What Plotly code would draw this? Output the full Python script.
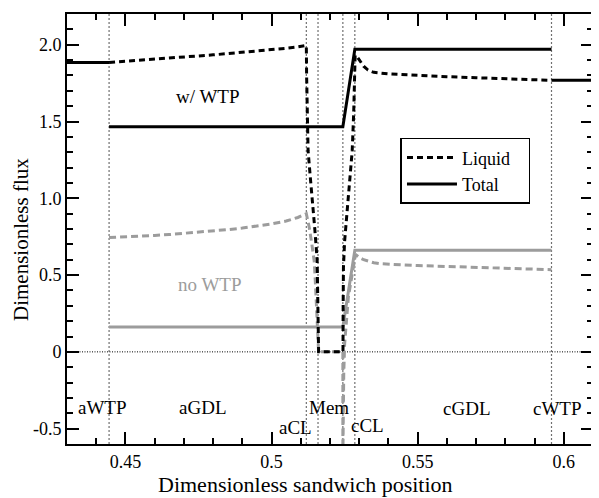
import plotly.graph_objects as go

# ---------------- data ----------------
boundaries = [0.4444, 0.5119, 0.5159, 0.5244, 0.5285, 0.5958]
region_names = ["aWTP", "aGDL", "aCL", "Mem", "cCL", "cGDL", "cWTP"]

# with WTP (black)
liq_w_x = [0.4444, 0.450, 0.455, 0.460, 0.465, 0.470, 0.475, 0.480, 0.485, 0.490, 0.495, 0.500, 0.505, 0.509, 0.5119,
           0.5120, 0.5122, 0.5125, 0.5132, 0.5140, 0.5148, 0.5156, 0.5158, 0.5160, 0.5161,
           0.5170, 0.5200, 0.5230, 0.52445,
           0.5245, 0.5246, 0.5250, 0.5258, 0.5266, 0.5276, 0.5281, 0.5284, 0.5286,
           0.5290, 0.5300, 0.5315, 0.5330, 0.5350, 0.5400, 0.5450, 0.5500, 0.5600, 0.5700, 0.5800, 0.5900, 0.5958]
liq_w_y = [1.885, 1.892, 1.899, 1.906, 1.913, 1.920, 1.927, 1.934, 1.942, 1.950, 1.958, 1.967, 1.977, 1.986, 1.995,
           1.80, 1.55, 1.31, 1.15, 0.985, 0.80, 0.60, 0.40, 0.20, 0.0,
           0.0, 0.0, 0.0, 0.0,
           0.30, 0.55, 0.72, 0.90, 1.08, 1.31, 1.55, 1.80, 1.93,
           1.93, 1.90, 1.86, 1.835, 1.82, 1.81, 1.805, 1.80, 1.792, 1.785, 1.779, 1.773, 1.768]

tot_w_x = [0.43, 0.4444, None, 0.4444, 0.5244, 0.5285, 0.5958, None, 0.5958, 0.61]
tot_w_y = [1.885, 1.885, None, 1.466, 1.466, 1.971, 1.971, None, 1.768, 1.768]

# without WTP (gray)
liq_n_x = [0.4444, 0.450, 0.455, 0.460, 0.465, 0.470, 0.475, 0.480, 0.485, 0.490, 0.495, 0.500, 0.505, 0.509, 0.5119,
           0.5123, 0.5129, 0.5138, 0.5146, 0.5150, 0.5156, 0.5159, 0.5161,
           0.5170, 0.5200, 0.5230, 0.5244,
           0.5244, 0.5245, 0.5247, 0.5250, 0.5256, 0.5263, 0.5272, 0.5280, 0.5286,
           0.5290, 0.5300, 0.5315, 0.5330, 0.5350, 0.5370, 0.5400, 0.5450, 0.5500, 0.5600, 0.5700, 0.5800, 0.5900, 0.5958]
liq_n_y = [0.745, 0.748, 0.752, 0.758, 0.764, 0.771, 0.778, 0.787, 0.796, 0.806, 0.818, 0.833, 0.852, 0.875, 0.900,
           0.87, 0.81, 0.70, 0.59, 0.45, 0.25, 0.10, 0.0,
           0.0, 0.0, 0.0, 0.0,
           -0.70, -0.40, -0.15, 0.05, 0.22, 0.36, 0.46, 0.55, 0.62,
           0.63, 0.615, 0.60, 0.59, 0.58, 0.574, 0.570, 0.566, 0.562, 0.556, 0.550, 0.544, 0.539, 0.535]

tot_n_x = [0.4444, 0.5244, 0.5285, 0.5958]
tot_n_y = [0.162, 0.162, 0.662, 0.662]

x_tickvals = [0.45, 0.5, 0.55, 0.6]
x_ticktext = ["0.45", "0.5", "0.55", "0.6"]
y_tickvals = [-0.5, 0, 0.5, 1.0, 1.5, 2.0]
y_ticktext = ["-0.5", "0", "0.5", "1.0", "1.5", "2.0"]

# ---------------- figure ----------------
FONT = "Liberation Serif"
BLACK = "#000000"
GRAY = "#9c9c9c"
PAD = "\u00a0\u00a0\u00a0"

fig = go.Figure()

for b in boundaries:
    fig.add_vline(x=b, line=dict(color="#707070", width=1.2, dash="2px,2px"), layer="below")
fig.add_hline(y=0, line=dict(color=BLACK, width=1, dash="1px,1.5px"), layer="below")

fig.add_trace(go.Scatter(x=liq_n_x, y=liq_n_y, mode="lines", showlegend=False,
                         line=dict(color=GRAY, width=3, dash="7px,4px")))
fig.add_trace(go.Scatter(x=tot_n_x, y=tot_n_y, mode="lines", showlegend=False,
                         line=dict(color=GRAY, width=3)))
fig.add_trace(go.Scatter(x=liq_w_x, y=liq_w_y, mode="lines", name="Liquid" + PAD,
                         line=dict(color=BLACK, width=3, dash="6px,4px")))
fig.add_trace(go.Scatter(x=tot_w_x, y=tot_w_y, mode="lines", name="Total" + PAD,
                         line=dict(color=BLACK, width=3)))

# region labels
label_x = [0.4421, 0.4762, 0.5083, 0.5195, 0.5330, 0.5667, 0.5977]
label_y = [-0.36, -0.36, -0.49, -0.36, -0.477, -0.366, -0.366]
for name, lx, ly in zip(region_names, label_x, label_y):
    fig.add_annotation(x=lx, y=ly, text=name, showarrow=False, xanchor="center", yanchor="middle",
                       font=dict(family=FONT, size=19, color=BLACK))

fig.add_annotation(x=0.4781, y=1.661, text="w/ WTP", showarrow=False, xanchor="center", yanchor="middle",
                   font=dict(family=FONT, size=19, color=BLACK))
fig.add_annotation(x=0.4791, y=0.439, text="no WTP", showarrow=False, xanchor="center", yanchor="middle",
                   font=dict(family=FONT, size=19, color=GRAY))

# axis titles
fig.add_annotation(xref="paper", yref="paper", x=0.454, y=-0.095, text="Dimensionless sandwich position",
                   showarrow=False, xanchor="center", yanchor="middle",
                   font=dict(family=FONT, size=22, color=BLACK))
fig.add_annotation(xref="paper", yref="paper", x=-0.087, y=0.475, text="Dimensionless flux",
                   showarrow=False, xanchor="center", yanchor="middle", textangle=-90,
                   font=dict(family=FONT, size=21, color=BLACK))

axis_common = dict(showline=True, linewidth=2, linecolor=BLACK, mirror="allticks",
                   ticks="inside", ticklen=12, tickwidth=1.5, tickcolor=BLACK,
                   showgrid=False, zeroline=False,
                   tickfont=dict(family=FONT, size=18, color=BLACK))

fig.update_xaxes(range=[0.43, 0.61], tickmode="array", tickvals=x_tickvals, ticktext=x_ticktext,
                 minor=dict(tickmode="linear", tick0=0.43, dtick=0.01, ticks="inside", ticklen=6,
                            tickwidth=1.5, tickcolor=BLACK, showgrid=False),
                 **axis_common)
fig.update_yaxes(range=[-0.6, 2.2], tickmode="array", tickvals=y_tickvals, ticktext=y_ticktext,
                 minor=dict(tickmode="linear", tick0=0, dtick=0.1, ticks="inside", ticklen=6,
                            tickwidth=1.5, tickcolor=BLACK, showgrid=False),
                 **axis_common)

# the page body adds an 8px offset, so the figure is sized to fit the window
fig.update_layout(
    width=591, height=490,
    margin=dict(l=59, r=4, t=5, b=54),
    paper_bgcolor="white", plot_bgcolor="white",
    font=dict(family=FONT, size=18, color=BLACK),
    legend=dict(x=0.634, y=0.712, xanchor="left", yanchor="top",
                bgcolor="white", bordercolor=BLACK, borderwidth=1.5,
                font=dict(family=FONT, size=18, color=BLACK),
                itemwidth=50, tracegroupgap=0),
)

fig.write_html("out.html")
